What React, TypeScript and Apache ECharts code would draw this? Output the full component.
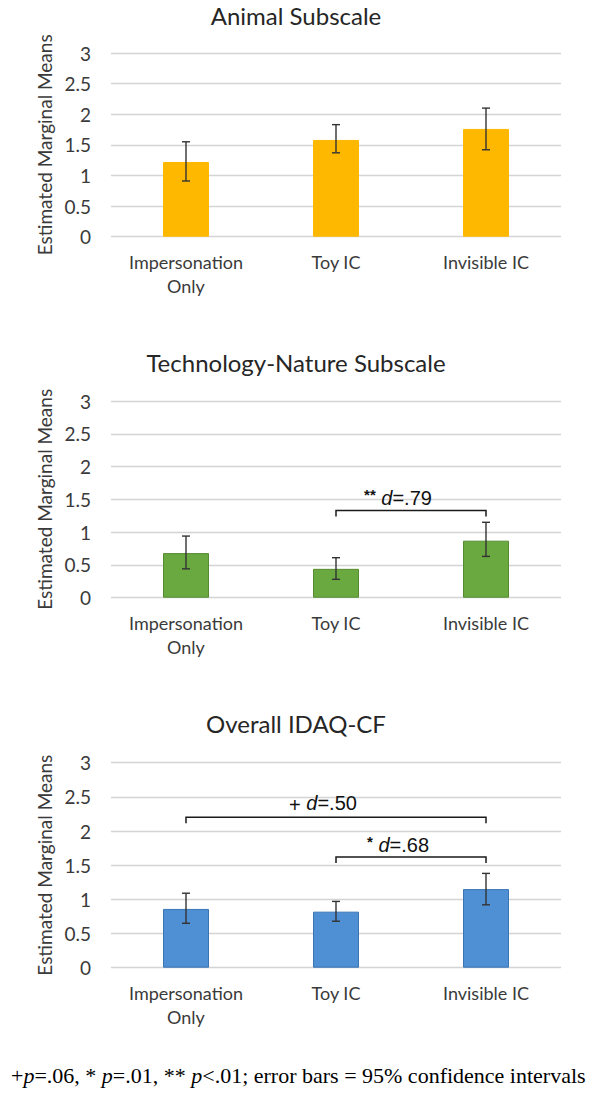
import React, { useEffect, useRef } from 'react';
import * as echarts from 'echarts';

const categories = ['Impersonation\nOnly', 'Toy IC', 'Invisible IC'];
const panelTitles = ['Animal Subscale', 'Technology-Nature Subscale', 'Overall IDAQ-CF'];
const yAxisTitle = 'Estimated Marginal Means';

const animalMeans = [1.22, 1.58, 1.76];
const animalLow = [0.91, 1.37, 1.42];
const animalHigh = [1.55, 1.83, 2.1];

const techMeans = [0.68, 0.44, 0.87];
const techLow = [0.44, 0.28, 0.63];
const techHigh = [0.94, 0.61, 1.15];

const overallMeans = [0.86, 0.82, 1.15];
const overallLow = [0.65, 0.68, 0.92];
const overallHigh = [1.09, 0.97, 1.38];

const animalBrackets: any[] = [];
const techBrackets = [{ from: 1, to: 2, y: 1.33, mark: '**', d: '.79' }];
const overallBrackets = [
  { from: 0, to: 2, y: 2.2, mark: '+', d: '.50' },
  { from: 1, to: 2, y: 1.62, mark: '*', d: '.68' },
];

const footnoteRich = '{n|+}{i|p}{n|=.06, * }{i|p}{n|=.01, ** }{i|p}{n|<.01; error bars = 95% confidence intervals}';

const grids = [
  { top: 53, height: 183.7 },
  { top: 401, height: 196.7 },
  { top: 762.7, height: 205 },
];
const titleY = [15, 362, 723];
const barColors = [
  { fill: '#FFB800', border: '#FFB800' },
  { fill: '#6AA840', border: '#558C30' },
  { fill: '#4F8FD3', border: '#3A74B4' },
];

const sansFont = 'Lato';
const textColor = '#3a3a3a';

function errorSeries(idx: number, low: number[], high: number[]) {
  return {
    type: 'custom',
    xAxisIndex: idx,
    yAxisIndex: idx,
    data: low.map((l, i) => [i, l, high[i]]),
    encode: { x: 0, y: [1, 2] },
    z: 10,
    renderItem: (params: any, api: any) => {
      const x = api.value(0);
      const lo = api.coord([x, api.value(1)]);
      const hi = api.coord([x, api.value(2)]);
      const w = 4;
      const style = { stroke: '#333333', lineWidth: 1.4, fill: 'none' };
      return {
        type: 'group',
        children: [
          { type: 'line', shape: { x1: lo[0], y1: lo[1], x2: hi[0], y2: hi[1] }, style },
          { type: 'line', shape: { x1: lo[0] - w, y1: lo[1], x2: lo[0] + w, y2: lo[1] }, style },
          { type: 'line', shape: { x1: hi[0] - w, y1: hi[1], x2: hi[0] + w, y2: hi[1] }, style },
        ],
      };
    },
  };
}

function bracketSeries(idx: number, brackets: any[]) {
  return {
    type: 'custom',
    xAxisIndex: idx,
    yAxisIndex: idx,
    data: brackets.map((b) => [b.from, b.to, b.y]),
    encode: { x: [0, 1], y: 2 },
    z: 11,
    renderItem: (params: any, api: any) => {
      const b = brackets[params.dataIndex];
      const p1 = api.coord([api.value(0), api.value(2)]);
      const p2 = api.coord([api.value(1), api.value(2)]);
      const drop = 6;
      const markStyle = b.mark === '+' ? 'p' : 'm';
      return {
        type: 'group',
        children: [
          {
            type: 'polyline',
            shape: {
              points: [
                [p1[0], p1[1] + drop],
                [p1[0], p1[1]],
                [p2[0], p2[1]],
                [p2[0], p2[1] + drop],
              ],
            },
            style: { stroke: '#1a1a1a', lineWidth: 1.5, fill: 'none' },
          },
          {
            type: 'text',
            x: (p1[0] + p2[0]) / 2 - 13,
            y: p1[1] - 2,
            style: {
              text: `{${markStyle}|${b.mark}}{n| }{i|d}{n|=${b.d}}`,
              align: 'center',
              verticalAlign: 'bottom',
              fill: '#111',
              rich: {
                m: { fontSize: 15, fontWeight: 'bold', fontFamily: 'Liberation Sans', fill: '#111', padding: [0, 0, 6, 0] },
                p: { fontSize: 20, fontFamily: 'Liberation Sans', fill: '#111', padding: [5, 0, 0, 0] },
                i: { fontSize: 20, fontStyle: 'italic', fontFamily: 'Liberation Sans', fill: '#111' },
                n: { fontSize: 20, fontFamily: 'Liberation Sans', fill: '#111' },
              },
            },
          },
        ],
      };
    },
  };
}

export default function App() {
  const ref = useRef<HTMLDivElement>(null);
  useEffect(() => {
    if (!ref.current) return;
    const chart = echarts.init(ref.current, undefined, { renderer: 'svg' });
    const means = [animalMeans, techMeans, overallMeans];
    const lows = [animalLow, techLow, overallLow];
    const highs = [animalHigh, techHigh, overallHigh];
    const brackets = [animalBrackets, techBrackets, overallBrackets];

    const option: any = {
      animation: false,
      backgroundColor: '#ffffff',
      grid: grids.map((g) => ({ left: 111, width: 450, top: g.top, height: g.height, containLabel: false })),
      xAxis: grids.map((g, i) => ({
        type: 'category',
        gridIndex: i,
        data: categories,
        axisLine: { show: false },
        axisTick: { show: false },
        axisLabel: { fontSize: 18, fontFamily: sansFont, color: textColor, margin: 13, lineHeight: 24, interval: 0 },
      })),
      yAxis: grids.map((g, i) => ({
        type: 'value',
        gridIndex: i,
        min: 0,
        max: 3,
        interval: 0.5,
        name: yAxisTitle,
        nameLocation: 'middle',
        nameGap: 52,
        nameRotate: 90,
        nameTextStyle: { fontSize: 19, fontFamily: sansFont, color: textColor },
        axisLine: { show: false },
        axisTick: { show: false },
        axisLabel: { fontSize: 19, fontFamily: sansFont, color: textColor, margin: 20 },
        splitLine: { lineStyle: { color: '#d4d4d4', width: 1.4 } },
      })),
      series: [
        ...means.map((m, i) => ({
          type: 'bar',
          xAxisIndex: i,
          yAxisIndex: i,
          data: m,
          barWidth: 46,
          itemStyle: { color: barColors[i].fill, borderColor: barColors[i].border, borderWidth: 1 },
        })),
        ...lows.map((l, i) => errorSeries(i, l, highs[i])),
        ...brackets.map((b, i) => bracketSeries(i, b)),
      ],
      graphic: [
        ...panelTitles.map((t, i) => ({
          type: 'text',
          x: 296,
          y: titleY[i],
          style: {
            text: t,
            align: 'center',
            verticalAlign: 'middle',
            fontSize: 24,
            fontFamily: sansFont,
            fill: '#262626',
          },
        })),
        {
          type: 'text',
          x: 11,
          y: 1075,
          style: {
            text: footnoteRich,
            align: 'left',
            verticalAlign: 'middle',
            rich: {
              n: { fontSize: 22, fontFamily: 'Liberation Serif', fill: '#000' },
              i: { fontSize: 22, fontStyle: 'italic', fontFamily: 'Liberation Serif', fill: '#000' },
            },
          },
        },
      ],
    };
    chart.setOption(option);
    return () => chart.dispose();
  }, []);
  return <div ref={ref} style={{ position: 'absolute', left: 0, top: 0, width: 600, height: 1097 }} />;
}
